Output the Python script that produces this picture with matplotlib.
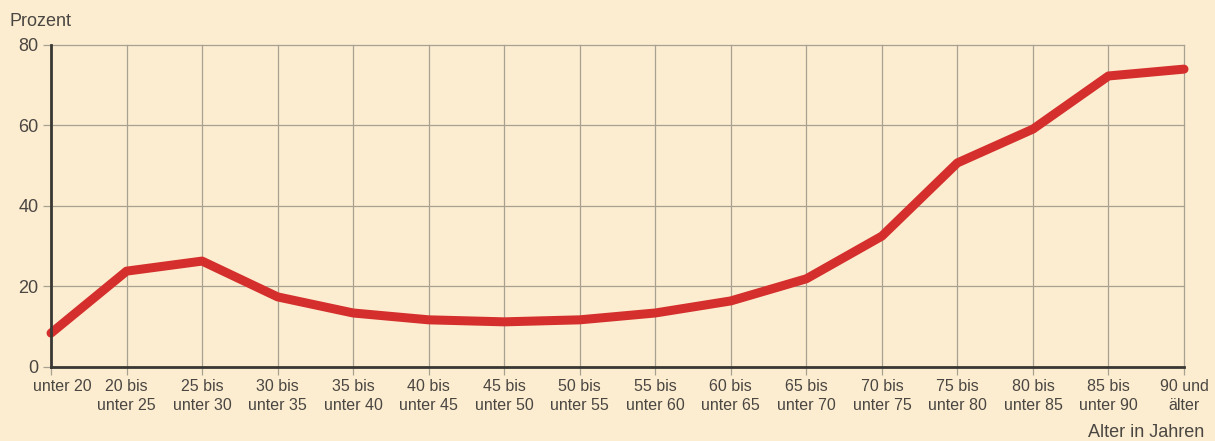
import matplotlib
matplotlib.use("Agg")
import matplotlib.pyplot as plt
import matplotlib.transforms as mtransforms

plt.rcParams["font.family"] = ["Liberation Sans", "DejaVu Sans"]

age_groups = ["unter 20", "20 bis\nunter 25", "25 bis\nunter 30", "30 bis\nunter 35",
              "35 bis\nunter 40", "40 bis\nunter 45", "45 bis\nunter 50", "50 bis\nunter 55",
              "55 bis\nunter 60", "60 bis\nunter 65", "65 bis\nunter 70", "70 bis\nunter 75",
              "75 bis\nunter 80", "80 bis\nunter 85", "85 bis\nunter 90", "90 und\nälter"]
percent = [8.4, 23.8, 26.3, 17.4, 13.4, 11.7, 11.2, 11.7,
           13.4, 16.4, 21.9, 32.5, 50.7, 59.1, 72.3, 74.0]
y_ticks = [0, 20, 40, 60, 80]

bg = "#fcedd0"
grid_col = "#a8a192"
text_col = "#4a4642"

fig = plt.figure(figsize=(12.15, 4.41), dpi=100, facecolor=bg)
ax = fig.add_axes([0.042, 0.168, 0.9325, 0.73])
ax.set_facecolor(bg)

x = list(range(len(age_groups)))
ax.plot(x, percent, color="#d52f2d", linewidth=6.5, solid_capstyle="round",
        solid_joinstyle="round", zorder=3, clip_on=False)

ax.set_xlim(0, len(age_groups) - 1)
ax.set_ylim(0, 80)
ax.set_xticks(x)
ax.set_xticklabels(age_groups, fontsize=11.5, color=text_col, linespacing=1.3)
ax.set_yticks(y_ticks)
ax.set_yticklabels([str(v) for v in y_ticks], fontsize=13, color=text_col)

ax.grid(True, color=grid_col, linewidth=0.9)
for gl in ax.get_xgridlines() + ax.get_ygridlines():
    gl.set_clip_on(False)
ax.set_axisbelow(True)
ax.tick_params(axis="both", length=6, width=0.9, color=grid_col, pad=3)

# nudge the first label to the right so it clears the left edge
first = ax.get_xticklabels()[0]
shift = mtransforms.ScaledTranslation(8 / 72, 0, fig.dpi_scale_trans)
first.set_transform(first.get_transform() + shift)

for side in ["top", "right"]:
    ax.spines[side].set_visible(False)
for side in ["left", "bottom"]:
    ax.spines[side].set_color("#3a3834")
    ax.spines[side].set_linewidth(2)
    ax.spines[side].set_zorder(4)

fig.text(0.008, 0.94, "Prozent", fontsize=13, color=text_col)
fig.text(0.991, 0.008, "Alter in Jahren", fontsize=13, color=text_col, ha="right")

fig.savefig("out.png", dpi=100, facecolor=bg)
